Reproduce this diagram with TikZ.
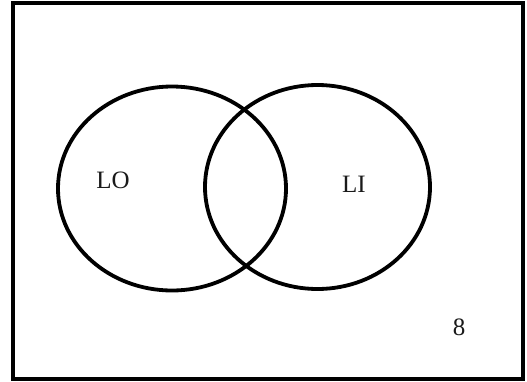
\documentclass[tikz,border=0pt]{standalone}
\usepackage{fontspec}
\setmainfont{Liberation Serif}
\usepackage{xcolor}
\usetikzlibrary{shapes.geometric}
\definecolor{ink}{HTML}{000000}
\definecolor{inktext}{HTML}{1A1A1A}
\tikzset{
  setring/.style={draw=ink,ellipse,line width=3.8pt,inner sep=0pt},
  setlabel/.style={text=inktext,font=\fontsize{25}{28}\selectfont,inner sep=0pt},
  frameline/.style={draw=ink,line width=4pt}
}
\begin{document}
\begin{tikzpicture}[x=1pt,y=-1pt]
  \useasboundingbox[fill=white] (0,0) rectangle (527,381);
  \draw[frameline] (12.5,3) rectangle (523,379);

  % the two sets
  \node[setring,minimum width=228pt,minimum height=204pt] (setLO) at (172,188.5) {};
  \node[setring,minimum width=225pt,minimum height=204pt] (setLI) at (317.5,187) {};

  \node[setlabel] (labLO) at (113,180) {LO};
  \node[setlabel] (labLI) at (354,184) {LI};
  \node[setlabel] (outside) at (459,327) {8};
\end{tikzpicture}
\end{document}
